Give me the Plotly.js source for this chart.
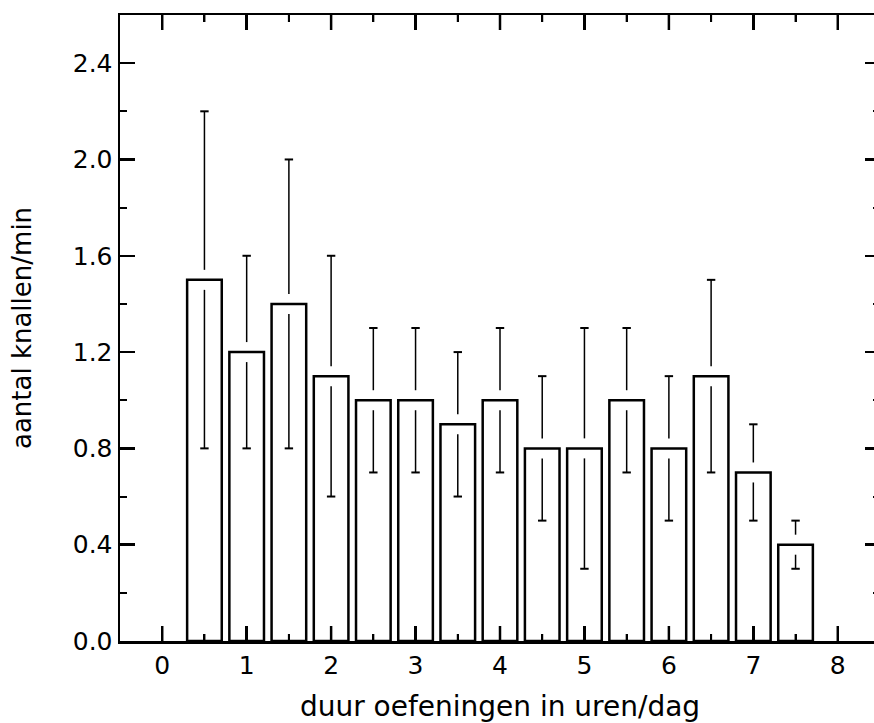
<!DOCTYPE html>
<html>
<head>
<meta charset="utf-8">
<script src="https://cdn.plot.ly/plotly-3.0.1.min.js"></script>
<style>
html, body { margin: 0; padding: 0; background: #fff; overflow: hidden; }
#chart { width: 880px; height: 723px; }
</style>
</head>
<body>
<div id="chart"></div>
<script>
// Data
const hours = [0.5, 1, 1.5, 2, 2.5, 3, 3.5, 4, 4.5, 5, 5.5, 6, 6.5, 7, 7.5];
const knallen = [1.5, 1.2, 1.4, 1.1, 1.0, 1.0, 0.9, 1.0, 0.8, 0.8, 1.0, 0.8, 1.1, 0.7, 0.4];
const spread = [0.7, 0.4, 0.6, 0.5, 0.3, 0.3, 0.3, 0.3, 0.3, 0.5, 0.3, 0.3, 0.4, 0.2, 0.1];
const xTickVals = [0, 1, 2, 3, 4, 5, 6, 7, 8];
const xMinorVals = [0.5, 1.5, 2.5, 3.5, 4.5, 5.5, 6.5, 7.5];
const yTickVals = [0, 0.4, 0.8, 1.2, 1.6, 2.0, 2.4];
const yMinorVals = [0.2, 0.6, 1.0, 1.4, 1.8, 2.2];

const X_RANGE = [-0.5, 8.5];
const Y_RANGE = [0, 2.6];
const PLOT_H = 723 - 15 - 82;
const PX = (Y_RANGE[1] - Y_RANGE[0]) / PLOT_H; // data units per pixel
const GAP = 10 * PX; // visual gap between bar top and the error line

const ex = [], ey = [], capX = [], capY = [];
hours.forEach((h, i) => {
  const v = knallen[i], e = spread[i];
  ex.push(h, h, null, h, h, null);
  ey.push(v + GAP, v + e, null, v - GAP, v - e, null);
  capX.push(h, h);
  capY.push(v + e, v - e);
});

// inward tick marks on bottom and top x edges, placed through the axis scale
function tickLines(vals, lenPx) {
  const tx = [], ty = [];
  vals.forEach(v => {
    tx.push(v, v, null, v, v, null);
    ty.push(Y_RANGE[0], Y_RANGE[0] + lenPx * PX, null, Y_RANGE[1], Y_RANGE[1] - lenPx * PX, null);
  });
  return { tx, ty };
}
const majorT = tickLines(xTickVals, 15);
const minorT = tickLines(xMinorVals, 7);

const font = "DejaVu Sans, Arial, sans-serif";

const data = [
  {
    type: "bar", x: hours, y: knallen, width: 0.41,
    marker: { color: "#ffffff", line: { color: "#000", width: 2.5 } }
  },
  {
    type: "scatter", mode: "lines", x: ex, y: ey,
    line: { color: "#000", width: 1.5 }
  },
  {
    type: "scatter", mode: "lines", x: majorT.tx, y: majorT.ty,
    line: { color: "#000", width: 2.5 }
  },
  {
    type: "scatter", mode: "lines", x: minorT.tx, y: minorT.ty,
    line: { color: "#000", width: 2 }
  },
  {
    type: "scatter", mode: "markers", x: capX, y: capY, xaxis: "x2", yaxis: "y2",
    marker: { symbol: "line-ew-open", size: 6, color: "#000", line: { color: "#000", width: 2 } }
  }
];

const layout = {
  width: 880, height: 723,
  margin: { l: 120, r: 0, t: 15, b: 82 },
  showlegend: false,
  font: { family: font, color: "#000" },
  xaxis: {
    range: X_RANGE, tickvals: xTickVals,
    showgrid: false, zeroline: false,
    showline: true, linecolor: "#000", linewidth: 2.5, mirror: "ticks",
    ticks: "inside", ticklen: 15, tickwidth: 2.5, tickcolor: "#000",
    tickfont: { family: font, size: 25, color: "#000" },
    title: { text: "duur oefeningen in uren/dag", font: { family: font, size: 28, color: "#000" }, standoff: 22 }
  },
  xaxis2: {
    overlaying: "x", anchor: "y", side: "bottom",
    range: X_RANGE, tickvals: xMinorVals,
    showticklabels: false, showgrid: false, zeroline: false, showline: false,
    mirror: "ticks", ticks: "inside", ticklen: 7, tickwidth: 2, tickcolor: "#000"
  },
  yaxis: {
    range: Y_RANGE, tickvals: yTickVals, tickformat: ".1f",
    showgrid: false, zeroline: false,
    showline: true, linecolor: "#000", linewidth: 2.5, mirror: "ticks",
    ticks: "inside", ticklen: 15, tickwidth: 2.5, tickcolor: "#000",
    tickfont: { family: font, size: 25, color: "#000" },
    title: { text: "aantal knallen/min", font: { family: font, size: 26, color: "#000" }, standoff: 34 }
  },
  yaxis2: {
    overlaying: "y", anchor: "x", side: "left",
    range: Y_RANGE, tickvals: yMinorVals,
    showticklabels: false, showgrid: false, zeroline: false, showline: false,
    mirror: "ticks", ticks: "inside", ticklen: 7, tickwidth: 2, tickcolor: "#000"
  }
};

Plotly.newPlot("chart", data, layout, { staticPlot: true, displayModeBar: false });
</script>
</body>
</html>
